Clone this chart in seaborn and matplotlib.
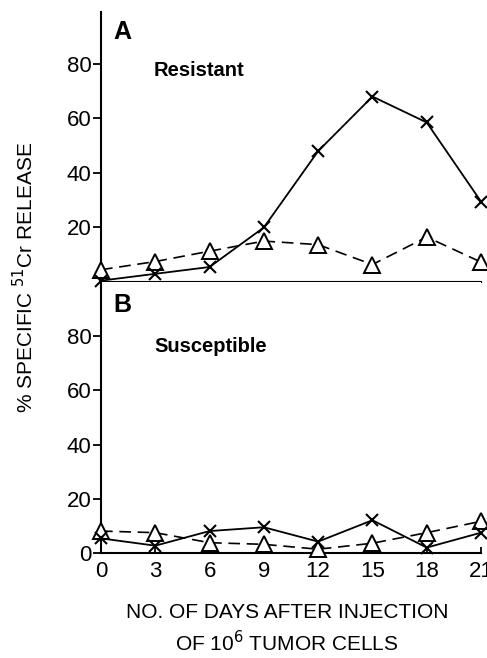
import matplotlib
matplotlib.use("Agg")
import matplotlib.pyplot as plt
import seaborn as sns
import pandas as pd
import numpy as np

days = [0, 3, 6, 9, 12, 15, 18, 21]
res_x = [0.5, 3, 5.5, 20, 48, 68, 58.5, 29.5]
res_tri = [4.5, 7.5, 11.3, 15, 13.7, 6.4, 16.5, 7.3]
sus_x = [5.4, 2.7, 8.1, 9.5, 4.2, 12.1, 2, 7.5]
sus_tri = [8.1, 7.5, 3.8, 3.2, 1.4, 3.6, 7.5, 11.7]
y_ticks_top = [20, 40, 60, 80]
y_ticks_bot = [0, 20, 40, 60, 80]
x_labels = ["0", "3", "6", "9", "12", "15", "18", "21"]

sns.set_theme(style="ticks")
plt.rcParams['font.family'] = ['Liberation Sans', 'DejaVu Sans']
plt.rcParams['text.color'] = 'black'
plt.rcParams['axes.labelcolor'] = 'black'
plt.rcParams['xtick.color'] = 'black'
plt.rcParams['ytick.color'] = 'black'

fig = plt.figure(figsize=(4.87, 6.58), dpi=100)
L, R = 101 / 487, 481 / 487
def ypos(px):
    return 1 - px / 658
ax1 = fig.add_axes([L, ypos(282), R - L, ypos(12) - ypos(282)])
ax2 = fig.add_axes([L, ypos(553), R - L, ypos(282) - ypos(553)])

def draw(ax, xs, tris):
    df = pd.DataFrame({"day": days, "x": xs, "tri": tris})
    sns.lineplot(data=df, x="day", y="tri", ax=ax, color="black", lw=1.2,
                 linestyle=(0, (7, 4)), marker="^", markersize=11,
                 markerfacecolor="white", markeredgecolor="black",
                 markeredgewidth=1.4, clip_on=False, zorder=3)
    sns.lineplot(data=df, x="day", y="x", ax=ax, color="black", lw=1.3,
                 marker="x", markersize=8, markeredgewidth=1.5,
                 markeredgecolor="black", clip_on=False, zorder=4)
    ax.set_xlim(0, 21)
    ax.set_ylim(0, 99)
    for s in ["top", "right"]:
        ax.spines[s].set_visible(False)
    for s in ["left", "bottom"]:
        ax.spines[s].set_linewidth(1.5)
        ax.spines[s].set_color("black")
    ax.set_xlabel("")
    ax.set_ylabel("")
    ax.tick_params(axis="y", direction="out", length=6, width=1.3, pad=1,
                   labelsize=16, colors="black")

draw(ax1, res_x, res_tri)
draw(ax2, sus_x, sus_tri)

ax1.set_yticks(y_ticks_top)
ax1.set_xticks([])
ax2.set_ylim(0, 100)
ax2.set_yticks(y_ticks_bot)
ax2.set_xticks(days)
ax2.set_xticklabels(x_labels)
ax2.tick_params(axis="x", direction="in", length=4, width=1.3, pad=6,
                labelsize=16, colors="black")

fig.text(113 / 487, ypos(32), "A", fontsize=18, va="center", ha="left",
         fontweight="bold")
fig.text(154 / 487, ypos(70), "Resistant", fontsize=14.5, fontweight="bold",
         va="center", ha="left")
fig.text(113 / 487, ypos(305), "B", fontsize=18, va="center", ha="left",
         fontweight="bold")
fig.text(154 / 487, ypos(346), "Susceptible", fontsize=14.5, fontweight="bold",
         va="center", ha="left")

fig.text(25 / 487, ypos(277), "% SPECIFIC $^{51}$Cr RELEASE", rotation=90,
         fontsize=15, va="center", ha="center")
fig.text(287 / 487, ypos(613), "NO. OF DAYS AFTER INJECTION", fontsize=15,
         va="center", ha="center")
fig.text(287 / 487, ypos(643), "OF 10$^{6}$ TUMOR CELLS", fontsize=15,
         va="center", ha="center")

fig.savefig("out.png", dpi=100)
